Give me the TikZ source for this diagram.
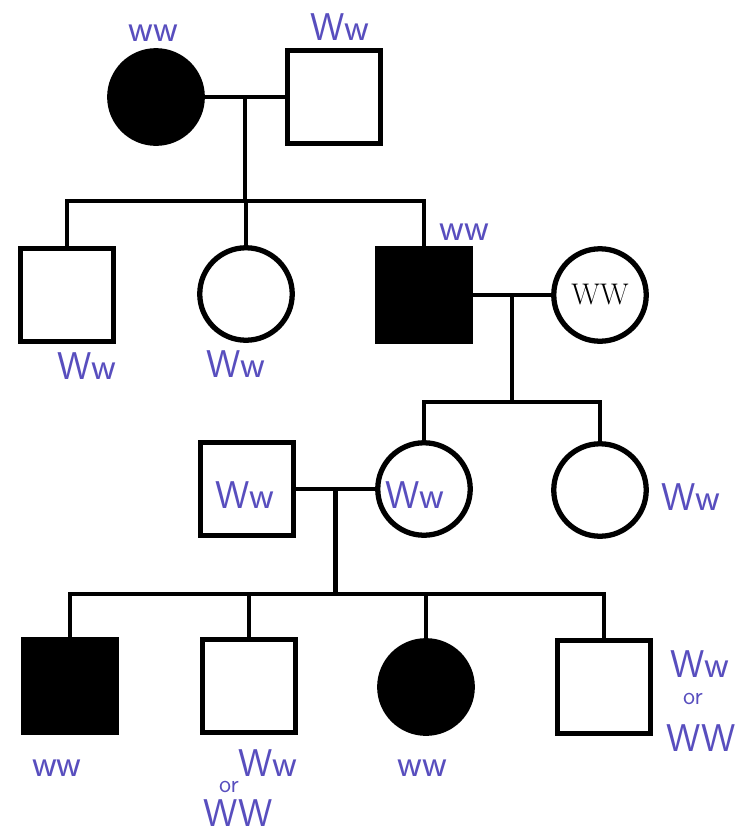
\documentclass[tikz,border=0pt]{standalone}
\usetikzlibrary{calc}
\definecolor{penblue}{RGB}{88,78,190}
\begin{document}
\begin{tikzpicture}[x=0.02cm, y=-0.02cm,
    male/.style={draw, line width=3pt, minimum size=1.85cm, inner sep=0pt},
    female/.style={draw, circle, line width=3pt, minimum size=1.85cm, inner sep=0pt},
    hit/.style={fill=black},
    link/.style={line width=2.8pt},
    pen/.style={text=penblue, inner sep=0pt, font=\sffamily\fontsize{22}{24}\selectfont},
    pensmall/.style={pen, font=\sffamily\fontsize{14}{15}\selectfont}]
    \useasboundingbox (0,0) rectangle (739,836); %same size as the scan

    % generation 1
    \node[female, hit] (gm) at (156,97) {};
    \node[male] (gf) at (334,97) {};
    % generation 2
    \node[male] (u1) at (67,295) {};
    \node[female] (a1) at (246,294) {};
    \node[male, hit] (fa) at (424,295) {};
    \node[female, font=\fontsize{17}{18}\selectfont] (mo) at (600,295) {WW};
    % generation 3
    \node[male] (sp) at (247,489) {};
    \node[female] (d1) at (424,489) {};
    \node[female] (d2) at (600,490) {};
    % generation 4
    \node[male, hit] (k1) at (70,686) {};
    \node[male] (k2) at (249,686) {};
    \node[female, hit] (k3) at (426,687) {};
    \node[male] (k4) at (604,687) {};

    \coordinate (j1) at ($(gm.east)!0.5!(gf.west)$);
    \coordinate (j2) at ($(fa.east)!0.5!(mo.west)$);
    \coordinate (j3) at ($(sp.east)!0.5!(d1.west)$);
    \coordinate (s1) at (0,201);
    \coordinate (s2) at (0,402);
    \coordinate (s3) at (0,594);

    \draw[link] (gm) -- (gf);
    \draw[link] (j1) -- (j1 |- s1);
    \draw[link] (u1.north) |- (fa.north |- s1) -- (fa.north);
    \draw[link] (a1.north) -- (a1.north |- s1);

    \draw[link] (fa) -- (mo);
    \draw[link] (j2) -- (j2 |- s2);
    \draw[link] (d1.north) |- (d2.north |- s2) -- (d2.north);

    \draw[link] (sp) -- (d1);
    \draw[link] (j3) -- (j3 |- s3);
    \draw[link] (k1.north) |- (k4.north |- s3) -- (k4.north);
    \draw[link] (k2.north) -- (k2.north |- s3);
    \draw[link] (k3.north) -- (k3.north |- s3);

    % handwritten genotypes
    \node[pen] (lgm) at (153,33) {ww};
    \node[pen] (lgf) at (340,27) {Ww};
    \node[pen] (lfa) at (464,232) {ww};
    \node[pen] (lu1) at (87,366) {Ww};
    \node[pen] (la1) at (236,364) {Ww};
    \node[pen] (lsp) at (245,495) {Ww};
    \node[pen] (ld1) at (415,495) {Ww};
    \node[pen] (ld2) at (691,497) {Ww};
    \node[pen] (lk1) at (57,768) {ww};
    \node[pen] (lk2) at (268,763) {Ww};
    \node[pensmall] (lk2or) at (229,787) {or};
    \node[pen] (lk2b) at (238,813) {WW};
    \node[pen] (lk3) at (422,768) {ww};
    \node[pen] (lk4) at (700,664) {Ww};
    \node[pensmall] (lk4or) at (693,699) {or};
    \node[pen] (lk4b) at (701,738) {WW};
\end{tikzpicture}
\end{document}
